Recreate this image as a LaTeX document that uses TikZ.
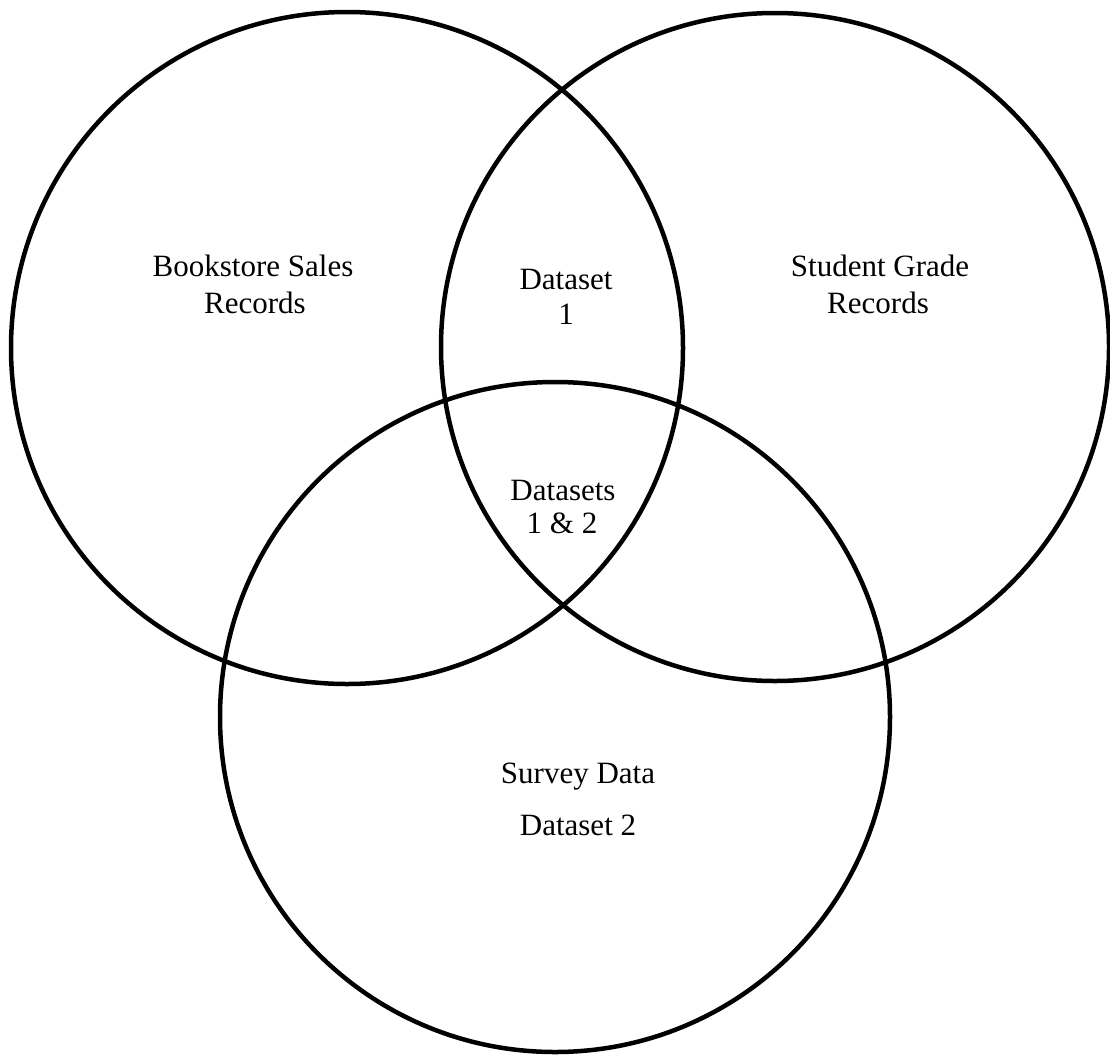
\documentclass[tikz,border=0pt]{standalone}
\usepackage{fontspec}
\setmainfont{Liberation Serif}
\begin{document}
\begin{tikzpicture}[x=1pt,y=-1pt,
  ring/.style={line width=4.5pt,draw=black},
  lbl/.style={inner sep=0pt,anchor=base,font=\fontsize{31}{37}\selectfont}]
\useasboundingbox[fill=white] (0,0) rectangle (1110,1055);
\draw[ring] (347,348) circle[radius=336];
\draw[ring] (775,347) circle[radius=334];
\draw[ring] (555,717) circle[radius=335];
\node[lbl] (b1) at (253,276) {Bookstore Sales};
\node[lbl] (b2) at (255,313) {Records};
\node[lbl] (d1) at (566,289) {Dataset};
\node[lbl] (d2) at (566,324) {1};
\node[lbl] (s1) at (880,276) {Student Grade};
\node[lbl] (s2) at (878,313) {Records};
\node[lbl] (x1) at (563,500) {Datasets};
\node[lbl] (x2) at (562,533) {1 \& 2};
\node[lbl] (v1) at (578,783) {Survey Data};
\node[lbl] (v2) at (578,835) {Dataset 2};
\end{tikzpicture}
\end{document}
